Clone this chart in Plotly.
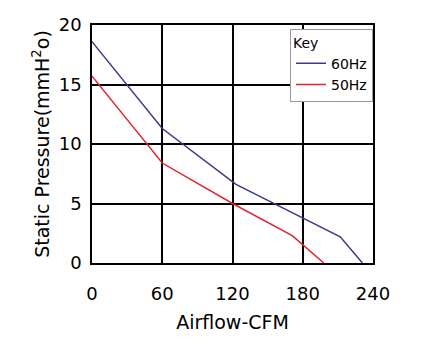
import plotly.graph_objects as go

x60 = [0, 60, 123, 212, 231]
y60 = [18.6, 11.3, 6.6, 2.2, 0]
x50 = [0, 60, 120, 171, 198]
y50 = [15.7, 8.4, 5.0, 2.3, 0]
xticks = [0, 60, 120, 180, 240]
yticks = [0, 5, 10, 15, 20]

fig = go.Figure()
fig.add_trace(go.Scatter(x=x60, y=y60, mode="lines", name="60Hz",
                         line=dict(color="#3b3a8a", width=1.5)))
fig.add_trace(go.Scatter(x=x50, y=y50, mode="lines", name="50Hz",
                         line=dict(color="#e02430", width=1.5)))

font = "DejaVu Sans, sans-serif"
fig.update_layout(
    width=430, height=354,
    margin=dict(l=92, r=57, t=25, b=91),
    paper_bgcolor="white", plot_bgcolor="white",
    font=dict(family=font, color="black", size=18),
    legend=dict(title=dict(text="Key", font=dict(size=14)),
                font=dict(size=14), x=1.0, y=0.985,
                xanchor="right", yanchor="top",
                bgcolor="white", bordercolor="#999", borderwidth=1,
                tracegroupgap=0, itemwidth=30),
    xaxis=dict(range=[0, 240], tickvals=xticks, ticktext=[str(v) for v in xticks],
               showgrid=True, gridcolor="black", gridwidth=1.5,
               showline=True, linecolor="black", linewidth=1.5, mirror=True,
               zeroline=False, ticks="", ticklabelstandoff=14,
               title=dict(text="Airflow-CFM", font=dict(size=19), standoff=12)),
    yaxis=dict(range=[0, 20], tickvals=yticks, ticktext=[str(v) for v in yticks],
               showgrid=True, gridcolor="black", gridwidth=1.5,
               showline=True, linecolor="black", linewidth=1.5, mirror=True,
               zeroline=False, ticks="", ticklabelstandoff=5,
               title=dict(text="Static Pressure(mmH<sup>2</sup>o)", font=dict(size=19), standoff=4)),
)
fig.write_html("out.html")
